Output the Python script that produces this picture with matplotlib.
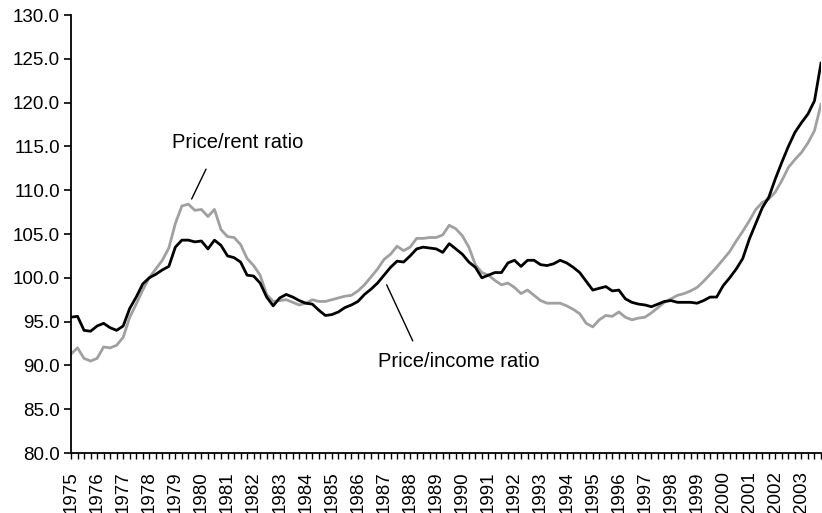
import matplotlib
matplotlib.use("Agg")
from matplotlib import pyplot as plt
import numpy as np

plt.rcParams["font.family"] = ["Liberation Sans", "DejaVu Sans"]

# quarterly data, 1975Q1 .. 2003Q4
years = list(range(1975, 2004))

price_income = [
    95.5, 95.6, 94.0, 93.9, 94.5, 94.8, 94.3, 94.0,
    94.5, 96.5, 97.8, 99.3, 100.0, 100.4, 100.9, 101.3,
    103.5, 104.3, 104.3, 104.1, 104.2, 103.3, 104.3, 103.7,
    102.5, 102.3, 101.8, 100.3, 100.2, 99.4, 97.8, 96.8,
    97.7, 98.1, 97.8, 97.4, 97.1, 97.0, 96.3, 95.7,
    95.8, 96.1, 96.6, 96.9, 97.3, 98.1, 98.7, 99.4,
    100.3, 101.2, 101.9, 101.8, 102.5, 103.3, 103.5, 103.4,
    103.3, 102.9, 103.9, 103.3, 102.7, 101.8, 101.2, 100.0,
    100.3, 100.6, 100.6, 101.7, 102.0, 101.3, 102.0, 102.0,
    101.5, 101.4, 101.6, 102.0, 101.7, 101.2, 100.6, 99.6,
    98.6, 98.8, 99.0, 98.5, 98.6, 97.6, 97.2, 97.0,
    96.9, 96.7, 97.0, 97.3, 97.4, 97.2, 97.2, 97.2,
    97.1, 97.4, 97.8, 97.8, 99.1, 100.0, 101.0, 102.2,
    104.4, 106.2, 108.0, 109.2, 111.3, 113.2, 115.0, 116.6,
    117.7, 118.7, 120.2, 124.5,
]

price_rent = [
    91.3, 92.0, 90.8, 90.5, 90.8, 92.1, 92.0, 92.3,
    93.2, 95.5, 97.0, 98.6, 100.0, 101.0, 102.0, 103.4,
    106.2, 108.2, 108.4, 107.7, 107.8, 107.0, 107.8, 105.5,
    104.7, 104.6, 103.8, 102.2, 101.4, 100.3, 98.1, 97.3,
    97.4, 97.5, 97.2, 96.9, 97.1, 97.5, 97.3, 97.3,
    97.5, 97.7, 97.9, 98.0, 98.5, 99.2, 100.1, 101.0,
    102.1, 102.7, 103.6, 103.1, 103.5, 104.5, 104.5, 104.6,
    104.6, 104.9, 106.0, 105.6, 104.8, 103.5, 101.5, 100.6,
    100.3, 99.7, 99.2, 99.4, 98.9, 98.2, 98.6, 98.0,
    97.4, 97.1, 97.1, 97.1, 96.8, 96.4, 95.9, 94.8,
    94.4, 95.2, 95.7, 95.6, 96.1, 95.5, 95.2, 95.4,
    95.5, 96.0, 96.6, 97.2, 97.6, 98.0, 98.2, 98.5,
    98.9, 99.6, 100.4, 101.2, 102.1, 103.0, 104.2, 105.3,
    106.5, 107.8, 108.6, 109.0, 109.8, 111.1, 112.6, 113.5,
    114.3, 115.4, 116.8, 119.8,
]

y_ticks = np.arange(80, 131, 5)

fig = plt.figure(figsize=(8.22, 5.13), dpi=100)
ax = fig.add_axes([71 / 822, 60 / 513, 750 / 822, 438 / 513])

q = np.arange(len(price_income))
ax.plot(q, price_rent, color="#a0a0a0", lw=2.0, solid_joinstyle="round")
ax.plot(q, price_income, color="black", lw=2.0, solid_joinstyle="round")

ax.set_xlim(0, len(q) - 1)
ax.set_ylim(80, 130)

# y axis
ax.set_yticks(y_ticks)
ax.set_yticklabels([f"{v:.1f}" for v in y_ticks], fontsize=13.5)
ax.tick_params(axis="y", direction="out", length=5, width=1.2, pad=3)

# x axis: tick every quarter, label on each year
ax.set_xticks(q)
labels = []
for i in q:
    if i % 4 == 0:
        labels.append(str(years[i // 4]))
    else:
        labels.append("")
ax.set_xticklabels(labels, rotation=90, fontsize=13.5, va="top", ha="center")
ax.tick_params(axis="x", direction="out", length=4, width=1.0, pad=9)

for side in ["top", "right"]:
    ax.spines[side].set_visible(False)
for side in ["left", "bottom"]:
    ax.spines[side].set_linewidth(1.3)

# annotations
ax.text(15.5, 115.4, "Price/rent ratio", fontsize=14.5, va="center", ha="left")
ax.annotate("", xy=(18.5, 109.0), xytext=(20.7, 112.4),
            arrowprops=dict(arrowstyle="-", color="black", lw=1.0,
                            shrinkA=0, shrinkB=0))

ax.text(47.0, 90.5, "Price/income ratio", fontsize=14.5, va="center", ha="left")
ax.annotate("", xy=(52.4, 92.8), xytext=(48.4, 99.2),
            arrowprops=dict(arrowstyle="-", color="black", lw=1.0,
                            shrinkA=0, shrinkB=0))

fig.savefig("out.png", dpi=100)
